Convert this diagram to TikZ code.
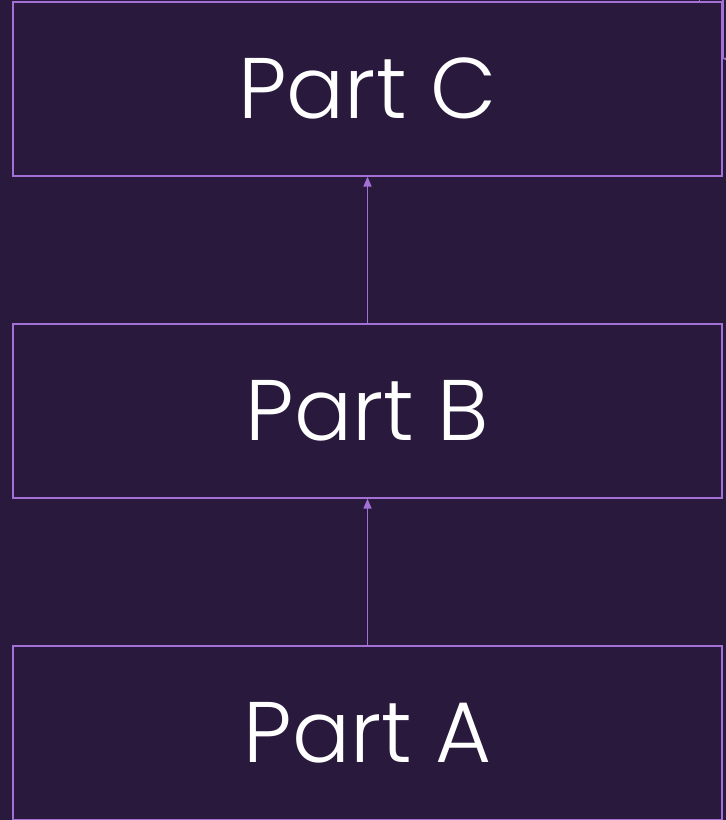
\documentclass[tikz,border=0pt]{standalone}
\usepackage{fontspec}
\setmainfont{Poppins}[UprightFont=* Light]
\usetikzlibrary{arrows.meta, positioning}
\definecolor{bgpurple}{RGB}{41,25,61}
\definecolor{linepurple}{RGB}{163,112,214}

\begin{document}
\begin{tikzpicture}[
    x=1pt, y=1pt,
    node distance=146.5pt,
    part/.style={
        draw=linepurple,
        fill=bgpurple,
        line width=1.6pt,
        align=center,
        minimum width=709pt,
        minimum height=174pt,
        inner sep=0pt,
        text=white,
        font=\fontsize{86}{100}\selectfont
    },
    arrow/.style={
        -{Triangle[width=8pt,length=10pt]},
        line width=1.6pt,
        draw=linepurple
    }
]

% Canvas
\fill [bgpurple] (0,0) rectangle (726,820);
\useasboundingbox (0,0) rectangle (726,820);
\clip (0,0) rectangle (726,820);

% Nodes
\node (partA) [part] at (367.5,87) {Part A};
\node (partB) [part, above=of partA] {Part B};
\node (partC) [part, above=of partB] {Part C};

% Paths
\draw [arrow] (partA) -- (partB);
\draw [arrow] (partB) -- (partC);
\draw [arrow] ([xshift=332pt]partC.north) -- ++(0,30) -| ([yshift=30pt]partC.east) ++(30,0) -- ([yshift=30pt]partC.east);

\end{tikzpicture}
\end{document}
